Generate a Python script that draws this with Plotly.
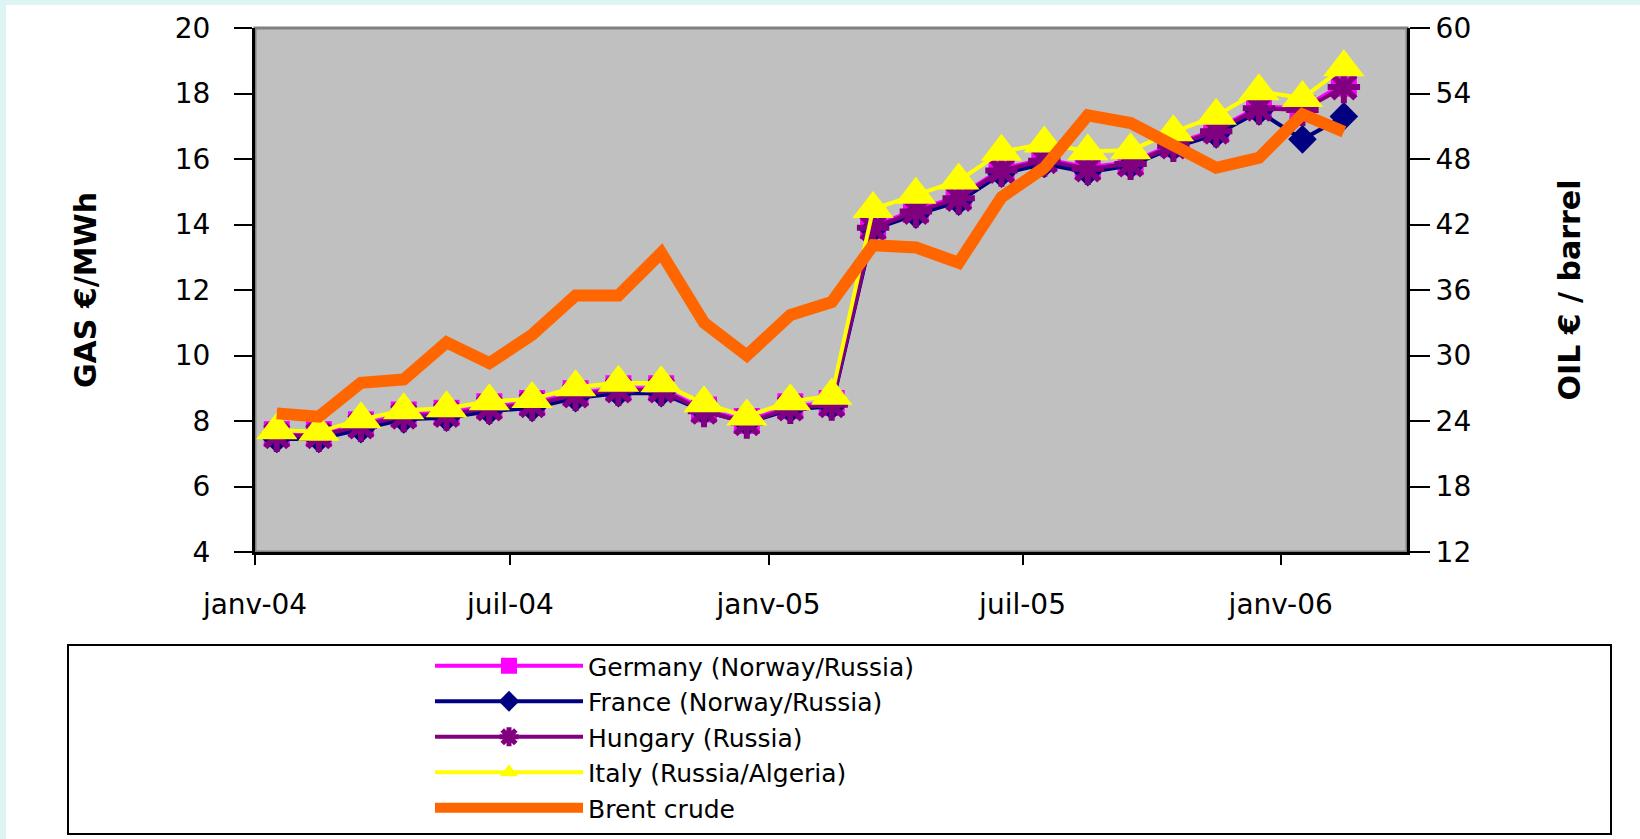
import plotly.graph_objects as go

# ---------------- data ----------------
months = ["2004-01", "2004-02", "2004-03", "2004-04", "2004-05", "2004-06",
          "2004-07", "2004-08", "2004-09", "2004-10", "2004-11", "2004-12",
          "2005-01", "2005-02", "2005-03", "2005-04", "2005-05", "2005-06",
          "2005-07", "2005-08", "2005-09", "2005-10", "2005-11", "2005-12",
          "2006-01", "2006-02"]

germany = [7.60, 7.60, 7.90, 8.20, 8.25, 8.45, 8.55, 8.85, 9.00, 9.00, 8.35, 8.00,
           8.45, 8.55, 13.95, 14.45, 14.85, 15.70, 16.00, 15.75, 15.90, 16.45, 16.90,
           17.60, 17.55, 18.30]
france = [7.45, 7.45, 7.75, 8.05, 8.10, 8.30, 8.40, 8.70, 8.85, 8.85, 8.30, 7.95,
          8.35, 8.45, 13.85, 14.30, 14.70, 15.55, 15.85, 15.60, 15.80, 16.35, 16.75,
          17.45, 16.60, 17.30]
hungary = [7.55, 7.55, 7.85, 8.15, 8.20, 8.40, 8.50, 8.80, 8.95, 8.95, 8.30, 7.95,
           8.40, 8.50, 13.90, 14.40, 14.80, 15.65, 15.95, 15.70, 15.85, 16.40, 16.85,
           17.55, 17.50, 18.20]
italy = [7.72, 7.67, 8.05, 8.33, 8.39, 8.60, 8.67, 9.03, 9.17, 9.15, 8.54, 8.14,
         8.60, 8.77, 14.47, 14.91, 15.34, 16.22, 16.47, 16.24, 16.27, 16.82, 17.32,
         18.07, 17.86, 18.80]
brent = [24.7, 24.4, 27.5, 27.8, 31.2, 29.3, 31.9, 35.5, 35.5, 39.4, 33.0, 30.0,
         33.7, 34.9, 40.1, 39.9, 38.5, 44.5, 47.2, 52.0, 51.3, 49.1, 47.2, 48.1,
         52.1, 50.5]

series_names = ["Germany (Norway/Russia)", "France (Norway/Russia)", "Hungary (Russia)",
                "Italy (Russia/Algeria)", "Brent crude"]

x_tick_vals = ["2004-01-01", "2004-07-01", "2005-01-01", "2005-07-01", "2006-01-01"]
x_tick_text = ["janv-04", "juil-04", "janv-05", "juil-05", "janv-06"]
x_range = ["2004-01-01", "2006-04-01"]
gas_ticks = [4, 6, 8, 10, 12, 14, 16, 18, 20]
oil_ticks = [12, 18, 24, 30, 36, 42, 48, 54, 60]

# ---------------- geometry / style ----------------
W, H = 1640, 839
ML, MR, MT, MB = 255, 233, 28, 287
PW, PH = W - ML - MR, H - MT - MB
FONT = "DejaVu Sans"


def px_x(px):
    return (px - ML) / PW


def px_y(py):
    return (H - MB - py) / PH


fig = go.Figure()

common = dict(mode="lines+markers", xperiod="M1", xperiodalignment="middle")
fig.add_trace(go.Scatter(x=months, y=germany, name=series_names[0], legendgroup="g1",
                         line=dict(color="#FF00FF", width=4),
                         marker=dict(symbol="square", size=26, color="#FF00FF"), **common))
fig.add_trace(go.Scatter(x=months, y=france, name=series_names[1], legendgroup="g2",
                         line=dict(color="#000080", width=4),
                         marker=dict(symbol="diamond", size=22, color="#000080"), **common))
fig.add_trace(go.Scatter(x=months, y=hungary, name=series_names[2], legendgroup="g3",
                         line=dict(color="#800080", width=4),
                         marker=dict(symbol="asterisk-open", size=27, color="#800080",
                                     line=dict(color="#800080", width=6)), **common))
fig.add_trace(go.Scatter(x=months, y=italy, name=series_names[3], legendgroup="g4",
                         line=dict(color="#FFFF00", width=4),
                         marker=dict(symbol="triangle-up", size=36, color="#FFFF00"), **common))
fig.add_trace(go.Scatter(x=months, y=brent, name=series_names[4], legendgroup="g5",
                         mode="lines", xperiod="M1", xperiodalignment="middle",
                         line=dict(color="#FF6600", width=12), yaxis="y2"))

shapes = [
    # white inner panel on the light cyan page
    dict(type="rect", xref="paper", yref="paper", x0=px_x(6), x1=px_x(W + 300),
         y0=px_y(H + 300), y1=px_y(5), fillcolor="white", line=dict(width=0), layer="below"),
    # grey plotting area
    dict(type="rect", xref="x domain", yref="y domain", x0=0, x1=1, y0=0, y1=1,
         fillcolor="#C0C0C0", line=dict(color="#808080", width=3), layer="below"),
    # legend frame
    dict(type="rect", xref="paper", yref="paper", x0=px_x(68), x1=px_x(1611),
         y0=px_y(834), y1=px_y(645), fillcolor="white", line=dict(color="black", width=2),
         layer="below"),
]

tickfont = dict(family=FONT, size=28, color="black")
titlefont = dict(family=FONT, size=30, color="black", weight="bold")

fig.update_layout(
    width=W, height=H,
    margin=dict(l=ML, r=MR, t=MT, b=MB, pad=0, autoexpand=False),
    paper_bgcolor="#DDF5F2",
    plot_bgcolor="rgba(0,0,0,0)",
    shapes=shapes,
    showlegend=True,
    legend=dict(x=px_x(430), y=px_y(643), xanchor="left", yanchor="top",
                bgcolor="rgba(0,0,0,0)", borderwidth=0, itemwidth=148,
                tracegroupgap=0, font=dict(family=FONT, size=25, color="black"),
                itemclick=False, itemdoubleclick=False),
    xaxis=dict(type="date", range=x_range, tickmode="array", tickvals=x_tick_vals,
               ticktext=x_tick_text, ticks="outside", ticklen=10, tickwidth=2,
               tickcolor="black", showline=True, linecolor="black", linewidth=3,
               showgrid=False, zeroline=False, tickfont=tickfont, ticklabelstandoff=15,
               automargin=False, fixedrange=True),
    xaxis2=dict(type="date", range=x_range, overlaying="x", anchor="y", side="bottom",
                tickmode="array", tickvals=x_tick_vals, ticks="inside", ticklen=10,
                tickwidth=2, tickcolor="black", showticklabels=False, showline=False,
                showgrid=False, zeroline=False, automargin=False, fixedrange=True),
    yaxis=dict(range=[4, 20], tickmode="array", tickvals=gas_ticks, ticks="outside",
               ticklen=18, tickwidth=2, tickcolor="black", showline=True, linecolor="black",
               linewidth=3, showgrid=False, zeroline=False, tickfont=tickfont,
               ticklabelstandoff=18, automargin=False, fixedrange=True,
               title=dict(text="GAS €/MWh", font=titlefont, standoff=70)),
    yaxis2=dict(range=[12, 60], tickmode="array", tickvals=oil_ticks, overlaying="y",
                side="right", anchor="x", ticks="outside", ticklen=20, tickwidth=2,
                tickcolor="black", showline=True, linecolor="black", linewidth=3,
                showgrid=False, zeroline=False, tickfont=tickfont, automargin=False,
                fixedrange=True,
                title=dict(text="OIL € / barrel", font=titlefont, standoff=89)),
    yaxis3=dict(range=[4, 20], tickmode="array", tickvals=gas_ticks, overlaying="y",
                side="left", anchor="x", ticks="inside", ticklen=18, tickwidth=2,
                tickcolor="black", showticklabels=False, showline=False, showgrid=False,
                zeroline=False, automargin=False, fixedrange=True),
    yaxis4=dict(range=[12, 60], tickmode="array", tickvals=oil_ticks, overlaying="y",
                side="right", anchor="x", ticks="inside", ticklen=20, tickwidth=2,
                tickcolor="black", showticklabels=False, showline=False, showgrid=False,
                zeroline=False, automargin=False, fixedrange=True),
)

fig.write_html("out.html", config={"displayModeBar": False},
               post_script="document.body.style.margin='0';document.body.style.overflow='hidden';")
